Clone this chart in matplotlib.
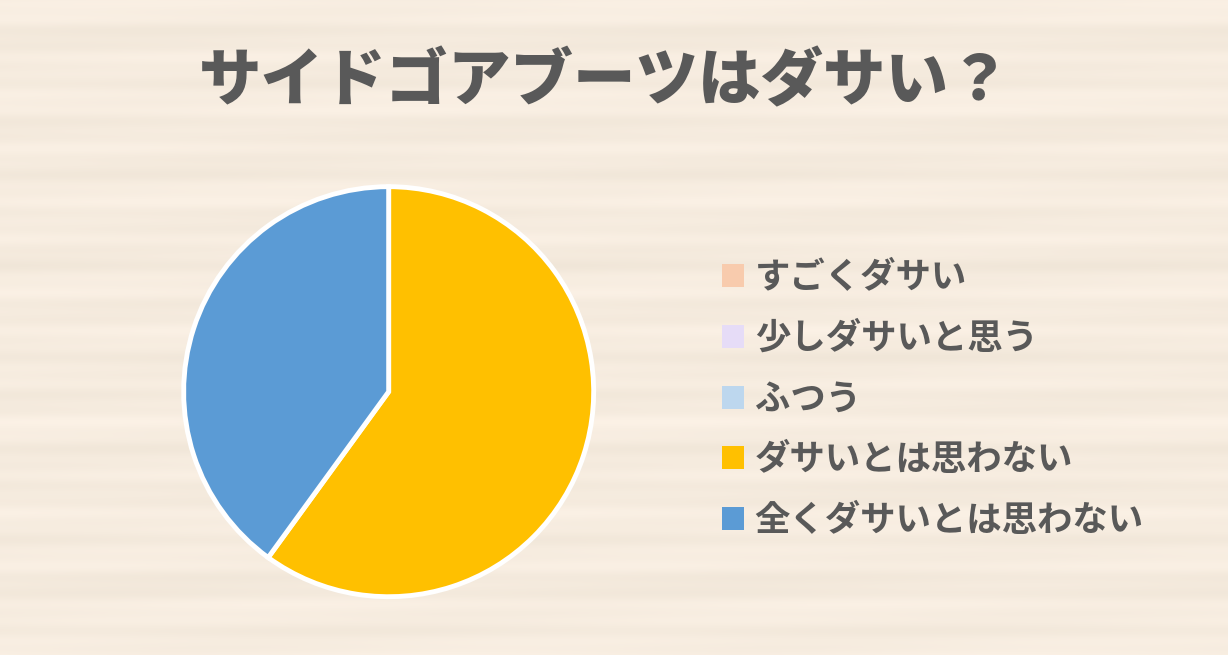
import numpy as np
import matplotlib.pyplot as plt

plt.rcParams['font.family'] = ['Noto Sans CJK JP', 'DejaVu Sans']

title = "サイドゴアブーツはダサい？"
labels = ["すごくダサい", "少しダサいと思う", "ふつう", "ダサいとは思わない", "全くダサいとは思わない"]
shares = [0, 0, 0, 60, 40]
colors = ["#F8CBAD", "#E6DCF7", "#BDD7EE", "#FFC000", "#5B9BD5"]

fig = plt.figure(figsize=(12.28, 6.55), dpi=100)

# wood-like background (horizontal streaks)
bg = fig.add_axes([0, 0, 1, 1])
rows = np.arange(655)
streak = (0.5 * np.sin(rows / 7.3) + 0.3 * np.sin(rows / 2.9 + 1.0) + 0.2 * np.sin(rows / 17.0 + 2.0))
cols = np.arange(1228)
tex = streak[:, None] + 0.25 * np.sin(cols[None, :] / 90.0 + rows[:, None] / 11.0)
base = np.array([0.965, 0.925, 0.875])
img = base[None, None, :] + 0.018 * tex[:, :, None] * np.array([1.0, 1.0, 1.2])
bg.imshow(np.clip(img, 0, 1), aspect='auto', extent=[0, 1, 0, 1])
bg.axis('off')

fig.text(0.493, 0.876, title, ha='center', va='center', fontsize=45,
         fontweight='heavy', color='#595959')

ax = fig.add_axes([0.1495, 0.089, 0.334, 0.626])
wedges, _ = ax.pie(shares, colors=colors, startangle=90, counterclock=False,
                   wedgeprops=dict(edgecolor='white', linewidth=3.5))
ax.set_xlim(-1.0, 1.0)
ax.set_ylim(-1.0, 1.0)
ax.set_aspect('equal')

leg = fig.legend(wedges, labels, loc='upper left', bbox_to_anchor=(0.562, 0.652),
                 frameon=False, prop=dict(size=25.5, weight='bold'),
                 handlelength=0.62, handleheight=0.62, handletextpad=0.3,
                 labelspacing=0.73, labelcolor='#595959')
for h in leg.legend_handles:
    h.set_linewidth(0)

fig.savefig("out.png", dpi=100)
plt.close('all')
